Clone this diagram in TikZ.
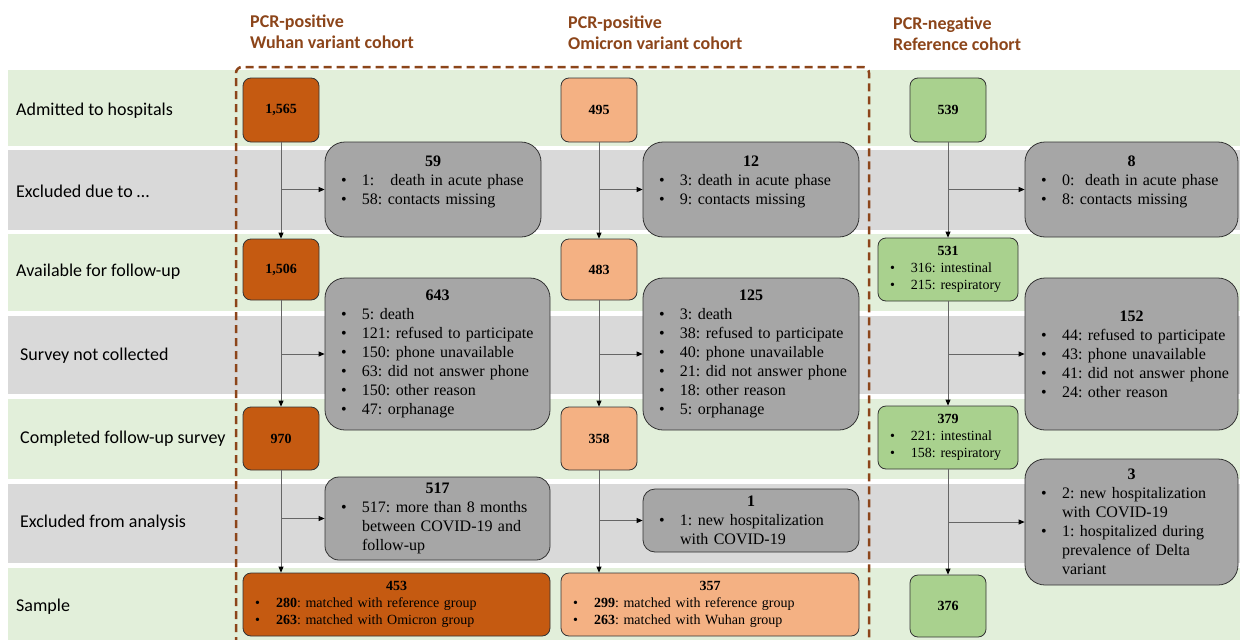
\documentclass[tikz,border=0pt]{standalone}
\usepackage{fontspec}
\setmainfont{Liberation Serif}
\newfontfamily\labfont{Carlito}
\usepackage{tikz}
\usetikzlibrary{arrows.meta}

\definecolor{bandg}{HTML}{E2EFDA}
\definecolor{bandx}{HTML}{D9D9D9}
\definecolor{wuhanc}{HTML}{C55A11}
\definecolor{omic}{HTML}{F4B183}
\definecolor{refc}{HTML}{A9D18E}
\definecolor{exclc}{HTML}{A6A6A6}
\definecolor{brownc}{HTML}{8C451A}

\frenchspacing
\newcommand{\ttl}[1]{{\centering\bfseries #1\par}}
\newcommand{\itm}[1]{\par\noindent\hspace*{16pt}\makebox[21pt][l]{\textbullet}#1}
\newcommand{\nl}{\newline\hspace*{37pt}}
\newcommand{\sitm}[1]{\par\noindent\hspace*{12pt}\makebox[21pt][l]{\textbullet}#1}

\begin{document}
\begin{tikzpicture}[x=1pt, y=-1pt,
  cnt/.style={draw=black!80, line width=0.8pt, rounded corners=8pt, inner sep=0pt,
    minimum width=76pt, minimum height=64pt, font=\fontsize{14}{17}\selectfont\bfseries},
  lst/.style={draw=black!80, line width=0.8pt, rounded corners=8pt, inner sep=0pt,
    align=left, font=\fontsize{14}{17}\selectfont},
  excl/.style={draw=black!80, line width=0.8pt, fill=exclc, rounded corners=20pt, inner sep=0pt,
    align=left, font=\fontsize{16}{19}\selectfont},
  rowlab/.style={anchor=west, inner sep=0pt, font=\labfont\fontsize{18}{21}\selectfont},
  cohort/.style={anchor=west, inner sep=0pt, align=left, text=brownc,
    font=\labfont\bfseries\fontsize{18}{21}\selectfont},
  flow/.style={draw=black!60, line width=0.8pt, -{Triangle[length=6pt,width=5pt,color=black]}}]
  \useasboundingbox (0,0) rectangle (1240,640);

  % row bands
  \foreach \t/\b/\c in {70/146/bandg, 150/230/bandx, 234/311/bandg, 316/394/bandx,
                        399/479/bandg, 484/563/bandx, 568/640/bandg}
    \fill[\c] (8,\t) rectangle (1240,\b);

  \node[rowlab] (lab1) at (16,111) {Admitted to hospitals};
  \node[rowlab] (lab2) at (16,191) {Excluded due to \dots};
  \node[rowlab] (lab3) at (16,272) {Available for follow-up};
  \node[rowlab] (lab4) at (20,356) {Survey not collected};
  \node[rowlab] (lab5) at (20,439) {Completed follow-up survey};
  \node[rowlab] (lab6) at (20,523) {Excluded from analysis};
  \node[rowlab] (lab7) at (16,607) {Sample};

  \node[cohort] (hwu) at (250,32) {PCR-positive\\Wuhan variant cohort};
  \node[cohort] (hom) at (568,33) {PCR-positive\\Omicron variant cohort};
  \node[cohort] (hrf) at (893,34) {PCR-negative\\Reference cohort};

  \draw[brownc, line width=2.5pt, dash pattern=on 8pt off 5pt, rounded corners=6pt]
    (236,645) -- (236,67) -- (869,67) -- (869,645);

  % Wuhan cohort
  \node[cnt, fill=wuhanc] (wu1) at (281,110) {1,565};
  \node[cnt, fill=wuhanc, minimum height=61pt] (wu2) at (281,269.5) {1,506};
  \node[cnt, fill=wuhanc, minimum height=63pt] (wu3) at (281,438.5) {970};
  \node[lst, fill=wuhanc, text width=307pt, minimum height=63pt] (wu4) at (396.5,604.5)
    {\ttl{453}\sitm{\textbf{280}: matched with reference group}\sitm{\textbf{263}: matched with Omicron group}};
  \node[excl, text width=216pt, minimum height=95pt] (wuex1) at (433,189.5)
    {\ttl{59}\itm{1:~~~death in acute phase}\itm{58: contacts missing}\par\mbox{}};
  \node[excl, text width=225pt, minimum height=152pt] (wuex2) at (437.5,354)
    {\ttl{643}\itm{5: death}\itm{121: refused to participate}\itm{150: phone unavailable}%
     \itm{63: did not answer phone}\itm{150: other reason}\itm{47: orphanage}};
  \node[excl, text width=225pt, minimum height=83pt, rounded corners=14pt] (wuex3) at (437.5,518.5)
    {\ttl{517}\itm{517: more than 8 months\nl between COVID-19 and\nl follow-up}};

  % Omicron cohort
  \node[cnt, fill=omic] (om1) at (599,110) {495};
  \node[cnt, fill=omic, minimum height=61pt] (om2) at (599,269.5) {483};
  \node[cnt, fill=omic, minimum height=63pt] (om3) at (599,438.5) {358};
  \node[lst, fill=omic, text width=298pt, minimum height=63pt] (om4) at (710,604.5)
    {\ttl{357}\sitm{\textbf{299}: matched with reference group}\sitm{\textbf{263}: matched with Wuhan group}};
  \node[excl, text width=216pt, minimum height=95pt] (omex1) at (751,189.5)
    {\ttl{12}\itm{3: death in acute phase}\itm{9: contacts missing}\par\mbox{}};
  \node[excl, text width=216pt, minimum height=152pt] (omex2) at (751,354)
    {\ttl{125}\itm{3: death}\itm{38: refused to participate}\itm{40: phone unavailable}%
     \itm{21: did not answer phone}\itm{18: other reason}\itm{5: orphanage}};
  \node[excl, text width=216pt, minimum height=63pt, rounded corners=12pt] (omex3) at (751,520.5)
    {\ttl{1}\itm{1: new hospitalization\nl with COVID-19}};

  % Reference cohort
  \node[cnt, fill=refc] (rf1) at (948,110) {539};
  \node[lst, fill=refc, text width=140pt, minimum height=63pt] (rf2) at (948,269.5)
    {\ttl{531}\sitm{316: intestinal}\sitm{215: respiratory}};
  \node[lst, fill=refc, text width=140pt, minimum height=63pt] (rf3) at (948,437.5)
    {\ttl{379}\sitm{221: intestinal}\sitm{158: respiratory}};
  \node[cnt, fill=refc, minimum height=62pt] (rf4) at (948,606) {376};
  \node[excl, text width=213pt, minimum height=95pt] (rfex1) at (1131.5,189.5)
    {\ttl{8}\itm{0:~~death in acute phase}\itm{8: contacts missing}\par\mbox{}};
  \node[excl, text width=213pt, minimum height=152pt] (rfex2) at (1131.5,354)
    {\ttl{152}\itm{44: refused to participate}\itm{43: phone unavailable}%
     \itm{41: did not answer phone}\itm{24: other reason}};
  \node[excl, text width=213pt, minimum height=126pt] (rfex3) at (1131.5,522)
    {\ttl{3}\itm{2: new hospitalization\nl with COVID-19}%
     \itm{1: hospitalized during\nl prevalence of Delta\nl variant}};

  % flow
  \foreach \c in {wu,om,rf} {
    \draw[flow] (\c1) -- (\c2);
    \draw[flow] (\c2) -- (\c3);
    \draw[flow] (\c3) -- (\c3 |- \c4.north);
    \draw[flow] (\c1 |- \c ex1.west) -- (\c ex1.west);
    \draw[flow] (\c2 |- \c ex2.west) -- (\c ex2.west);
    \draw[flow] (\c3 |- \c ex3.west) -- (\c ex3.west);
  }
\end{tikzpicture}
\end{document}
